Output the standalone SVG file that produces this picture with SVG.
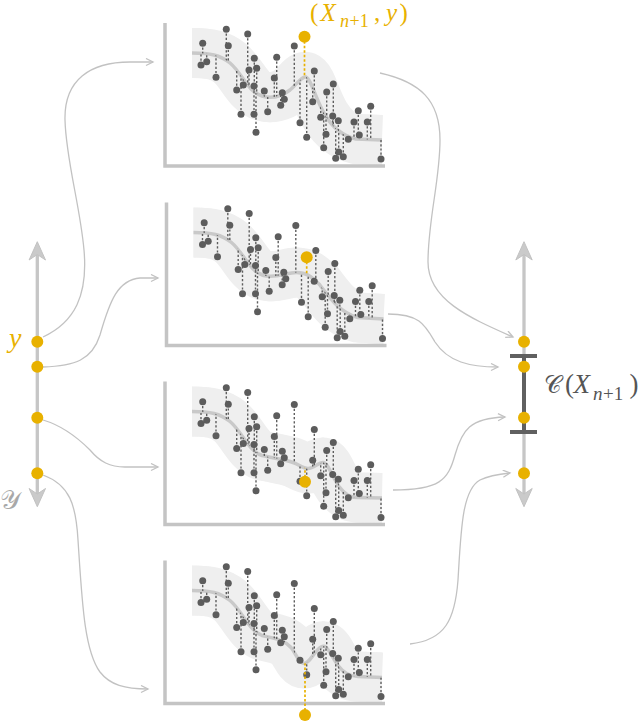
<svg xmlns="http://www.w3.org/2000/svg" xmlns:xlink="http://www.w3.org/1999/xlink" width="640" height="722" viewBox="0 0 640 722">
<style>
.band{fill:#efefef}
.bands{fill:none;stroke:#efefef;stroke-width:50}
.crv{fill:none;stroke:#c9c9c9;stroke-width:3.5}
.ax{fill:none;stroke:#c4c4c4;stroke-width:3.5}
.res{fill:none;stroke:#5e5e5e;stroke-width:1.4;stroke-dasharray:2.2 2}
.yres{fill:none;stroke:#e8b100;stroke-width:1.7;stroke-dasharray:2.5 2}
.pt{fill:#5c5c5c}
.yp{fill:#e8b100}
.conn{fill:none;stroke:#c2c2c2;stroke-width:1.3;marker-end:url(#arr)}
.yax{fill:none;stroke:#c6c6c6;stroke-width:3.3}
.ahead{fill:#cacaca;stroke:#c2c2c2;stroke-width:1;stroke-linejoin:round}
.ci{fill:none;stroke:#606060;stroke-width:4}
</style>
<defs>
<marker id="arr" markerUnits="userSpaceOnUse" markerWidth="10" markerHeight="10" refX="8" refY="4" orient="auto"><path d="M1,0.5 L8,4 L1,7.5" fill="none" stroke="#c2c2c2" stroke-width="1.3"/></marker>
<path id="dn" d="M202.7,43.3v250M201,65v250M206.7,61.7v250M216,77.3v250M226.3,29.3v250M228.3,45.7v250M236.7,90v250M241,114.3v250M243.3,85v250M247.7,34v250M249,70v250M254.3,58.3v250M256.7,68.3v250M254,86v250M254,114.3v250M256,132.3v250M264.3,91v250M267.7,111.7v250M274.3,78v250M276.7,57.3v250M282.3,92.7v250M284.3,99.3v250M280.7,105.3v250M294.3,46v250M300,122.7v250M306.7,137.3v250M314.3,71v250M312.7,101.7v250M320.7,117.3v250M326.7,92v250M326,134.3v250M323.7,147.7v250M333.3,84v250M332.7,116v250M338.3,120.7v250M335.7,158.3v250M338.7,152v250M343.3,156.7v250M348.3,139.3v250M354,122v250M358.3,110.7v250M359.3,135v250M367.3,122v250M370.7,106.3v250M381,159v250"/>
<path id="up" d="M202.7,43.3v-250M201,65v-250M206.7,61.7v-250M216,77.3v-250M226.3,29.3v-250M228.3,45.7v-250M236.7,90v-250M241,114.3v-250M243.3,85v-250M247.7,34v-250M249,70v-250M254.3,58.3v-250M256.7,68.3v-250M254,86v-250M254,114.3v-250M256,132.3v-250M264.3,91v-250M267.7,111.7v-250M274.3,78v-250M276.7,57.3v-250M282.3,92.7v-250M284.3,99.3v-250M280.7,105.3v-250M294.3,46v-250M300,122.7v-250M306.7,137.3v-250M314.3,71v-250M312.7,101.7v-250M320.7,117.3v-250M326.7,92v-250M326,134.3v-250M323.7,147.7v-250M333.3,84v-250M332.7,116v-250M338.3,120.7v-250M335.7,158.3v-250M338.7,152v-250M343.3,156.7v-250M348.3,139.3v-250M354,122v-250M358.3,110.7v-250M359.3,135v-250M367.3,122v-250M370.7,106.3v-250M381,159v-250"/>
<g id="pts" class="pt">
<circle cx="202.7" cy="43.3" r="3.5"/><circle cx="201" cy="65" r="3.5"/><circle cx="206.7" cy="61.7" r="3.5"/><circle cx="216" cy="77.3" r="3.5"/><circle cx="226.3" cy="29.3" r="3.5"/><circle cx="228.3" cy="45.7" r="3.5"/><circle cx="236.7" cy="90" r="3.5"/><circle cx="241" cy="114.3" r="3.5"/><circle cx="243.3" cy="85" r="3.5"/><circle cx="247.7" cy="34" r="3.5"/><circle cx="249" cy="70" r="3.5"/><circle cx="254.3" cy="58.3" r="3.5"/><circle cx="256.7" cy="68.3" r="3.5"/><circle cx="254" cy="86" r="3.5"/><circle cx="254" cy="114.3" r="3.5"/><circle cx="256" cy="132.3" r="3.5"/><circle cx="264.3" cy="91" r="3.5"/><circle cx="267.7" cy="111.7" r="3.5"/><circle cx="274.3" cy="78" r="3.5"/><circle cx="276.7" cy="57.3" r="3.5"/><circle cx="282.3" cy="92.7" r="3.5"/><circle cx="284.3" cy="99.3" r="3.5"/><circle cx="280.7" cy="105.3" r="3.5"/><circle cx="294.3" cy="46" r="3.5"/><circle cx="300" cy="122.7" r="3.5"/><circle cx="306.7" cy="137.3" r="3.5"/><circle cx="314.3" cy="71" r="3.5"/><circle cx="312.7" cy="101.7" r="3.5"/><circle cx="320.7" cy="117.3" r="3.5"/><circle cx="326.7" cy="92" r="3.5"/><circle cx="326" cy="134.3" r="3.5"/><circle cx="323.7" cy="147.7" r="3.5"/><circle cx="333.3" cy="84" r="3.5"/><circle cx="332.7" cy="116" r="3.5"/><circle cx="338.3" cy="120.7" r="3.5"/><circle cx="335.7" cy="158.3" r="3.5"/><circle cx="338.7" cy="152" r="3.5"/><circle cx="343.3" cy="156.7" r="3.5"/><circle cx="348.3" cy="139.3" r="3.5"/><circle cx="354" cy="122" r="3.5"/><circle cx="358.3" cy="110.7" r="3.5"/><circle cx="359.3" cy="135" r="3.5"/><circle cx="367.3" cy="122" r="3.5"/><circle cx="370.7" cy="106.3" r="3.5"/><circle cx="381" cy="159" r="3.5"/>
</g>
<path id="cv1" d="M192,53 C210,53 220,55 230,63 C242,73 248,92 262,96 C272,99 282,96 290,90 C297,84 302,76 306,77 C311,79 316,100 325,115 C333,128 342,136 356,139 L382,140"/>
<path id="ab1" d="M185,-80 L185,53 L192,53 C210,53 220,55 230,63 C242,73 248,92 262,96 C272,99 282,96 290,90 C297,84 302,76 306,77 C311,79 316,100 325,115 C333,128 342,136 356,139 L382,140 L395,140 L395,-80 Z"/>
<path id="be1" d="M185,330 L185,53 L192,53 C210,53 220,55 230,63 C242,73 248,92 262,96 C272,99 282,96 290,90 C297,84 302,76 306,77 C311,79 316,100 325,115 C333,128 342,136 356,139 L382,140 L395,140 L395,330 Z"/>
<path id="cv2" d="M192,53 C210,53 220,55 230,63 C242,73 248,92 262,96 C275,99 285,93 295,93 C305,93 310,97 318,105 C328,118 338,133 356,138 L382,139.5"/>
<path id="ab2" d="M185,-80 L185,53 L192,53 C210,53 220,55 230,63 C242,73 248,92 262,96 C275,99 285,93 295,93 C305,93 310,97 318,105 C328,118 338,133 356,138 L382,139.5 L395,139.5 L395,-80 Z"/>
<path id="be2" d="M185,330 L185,53 L192,53 C210,53 220,55 230,63 C242,73 248,92 262,96 C275,99 285,93 295,93 C305,93 310,97 318,105 C328,118 338,133 356,138 L382,139.5 L395,139.5 L395,330 Z"/>
<path id="cv3" d="M192,53 C210,53 220,55 230,63 C242,73 248,92 262,97 C275,100 285,101 293,104 C299,106 303,110 308,110 C314,110 318,104 323,104 C328,104 332,118 339,128 C345,136 350,139 358,139 L382,139.5"/>
<path id="ab3" d="M185,-80 L185,53 L192,53 C210,53 220,55 230,63 C242,73 248,92 262,97 C275,100 285,101 293,104 C299,106 303,110 308,110 C314,110 318,104 323,104 C328,104 332,118 339,128 C345,136 350,139 358,139 L382,139.5 L395,139.5 L395,-80 Z"/>
<path id="be3" d="M185,330 L185,53 L192,53 C210,53 220,55 230,63 C242,73 248,92 262,97 C275,100 285,101 293,104 C299,106 303,110 308,110 C314,110 318,104 323,104 C328,104 332,118 339,128 C345,136 350,139 358,139 L382,139.5 L395,139.5 L395,330 Z"/>
<path id="cv4" d="M192,53 C210,53 220,55 230,63 C242,73 248,92 262,98 C275,101 284,102 291,110 C296,116 299,126 304,126 C309,126 312,118 317,113 C320,110 322,108 325,109 C329,111 332,120 338,128 C344,136 350,139 358,139 L382,140"/>
<path id="ab4" d="M185,-80 L185,53 L192,53 C210,53 220,55 230,63 C242,73 248,92 262,98 C275,101 284,102 291,110 C296,116 299,126 304,126 C309,126 312,118 317,113 C320,110 322,108 325,109 C329,111 332,120 338,128 C344,136 350,139 358,139 L382,140 L395,140 L395,-80 Z"/>
<path id="be4" d="M185,330 L185,53 L192,53 C210,53 220,55 230,63 C242,73 248,92 262,98 C275,101 284,102 291,110 C296,116 299,126 304,126 C309,126 312,118 317,113 C320,110 322,108 325,109 C329,111 332,120 338,128 C344,136 350,139 358,139 L382,140 L395,140 L395,330 Z"/>
<clipPath id="a1"><use href="#ab1"/></clipPath>
<clipPath id="b1"><use href="#be1"/></clipPath>
<clipPath id="t1"><use href="#be1" transform="translate(0,-25)"/></clipPath>
<clipPath id="u1"><use href="#ab1" transform="translate(0,25)"/></clipPath>
<clipPath id="a2"><use href="#ab2"/></clipPath>
<clipPath id="b2"><use href="#be2"/></clipPath>
<clipPath id="t2"><use href="#be2" transform="translate(0,-25)"/></clipPath>
<clipPath id="u2"><use href="#ab2" transform="translate(0,25)"/></clipPath>
<clipPath id="a3"><use href="#ab3"/></clipPath>
<clipPath id="b3"><use href="#be3"/></clipPath>
<clipPath id="t3"><use href="#be3" transform="translate(0,-25)"/></clipPath>
<clipPath id="u3"><use href="#ab3" transform="translate(0,25)"/></clipPath>
<clipPath id="a4"><use href="#ab4"/></clipPath>
<clipPath id="b4"><use href="#be4"/></clipPath>
<clipPath id="t4"><use href="#be4" transform="translate(0,-25)"/></clipPath>
<clipPath id="u4"><use href="#ab4" transform="translate(0,25)"/></clipPath>
</defs>
<rect width="640" height="722" fill="#ffffff"/>

<g id="connectors">
<path class="conn" d="M43,337 C75,322 88,295 84,250 C80,205 66,160 65,120 C64,80 90,62 130,62 L153,62"/>
<path class="conn" d="M43,367 C75,366 92,360 100,335 C110,300 118,280 140,278 L158,278"/>
<path class="conn" d="M43,420 C60,425 75,435 90,450 C100,462 110,467 125,467 L158,467"/>
<path class="conn" d="M43,475 C70,485 76,505 78,540 C82,600 84,650 100,672 C110,685 125,689 148,689"/>
<path class="conn" d="M380,73 C420,82 440,100 440,140 C440,180 428,220 428,262 C428,300 470,318 513,337"/>
<path class="conn" d="M388,314 C420,314 425,325 435,342 C448,362 470,367 498,367"/>
<path class="conn" d="M393,490 C440,490 448,480 455,455 C462,430 470,418 505,417"/>
<path class="conn" d="M410,644 C445,640 455,620 458,580 C461,530 462,490 480,480 C490,475 500,474 510,473"/>
</g>

<g id="panel1">
<g clip-path="url(#t1)"><rect class="band" x="192" y="-80" width="190" height="400" clip-path="url(#u1)"/></g>
<use href="#cv1" class="bands"/>
<use href="#cv1" class="crv"/>
<use href="#dn" class="res" clip-path="url(#a1)"/>
<use href="#up" class="res" clip-path="url(#b1)"/>
<path class="ax" d="M165,23 V166 H385"/>
<use href="#pts"/>
<path class="yres" d="M304.5,36.7 v250" clip-path="url(#a1)"/>
<circle class="yp" cx="304.5" cy="36.7" r="6"/>
</g>

<g id="panel2" transform="translate(1.5,179.5)">
<g clip-path="url(#t2)"><rect class="band" x="192" y="-80" width="190" height="400" clip-path="url(#u2)"/></g>
<use href="#cv2" class="bands"/>
<use href="#cv2" class="crv"/>
<use href="#dn" class="res" clip-path="url(#a2)"/>
<use href="#up" class="res" clip-path="url(#b2)"/>
<path class="ax" d="M165,23 V166 H385"/>
<use href="#pts"/>
<path class="yres" d="M305.2,77.8 v250" clip-path="url(#a2)"/>
<circle class="yp" cx="305.2" cy="77.8" r="6"/>
</g>

<g id="panel3" transform="translate(0,358.5)">
<g clip-path="url(#t3)"><rect class="band" x="192" y="-80" width="190" height="400" clip-path="url(#u3)"/></g>
<use href="#cv3" class="bands"/>
<use href="#cv3" class="crv"/>
<use href="#dn" class="res" clip-path="url(#a3)"/>
<use href="#up" class="res" clip-path="url(#b3)"/>
<path class="ax" d="M165,23 V166 H385"/>
<use href="#pts"/>
<path class="yres" d="M305,123.2 v-250" clip-path="url(#b3)"/>
<circle class="yp" cx="305" cy="123.2" r="6"/>
</g>

<g id="panel4" transform="translate(0,537.5)">
<g clip-path="url(#t4)"><rect class="band" x="192" y="-80" width="190" height="400" clip-path="url(#u4)"/></g>
<use href="#cv4" class="bands"/>
<use href="#cv4" class="crv"/>
<use href="#dn" class="res" clip-path="url(#a4)"/>
<use href="#up" class="res" clip-path="url(#b4)"/>
<path class="ax" d="M165,23 V166 H385"/>
<use href="#pts"/>
<path class="yres" d="M305,177.5 v-250" clip-path="url(#b4)"/>
<circle class="yp" cx="305" cy="177.5" r="6"/>
</g>

<g id="new-point-label">
<text font-family="Liberation Serif, DejaVu Serif, serif" y="21" font-size="25" fill="#e8b100"><tspan x="310">(</tspan><tspan x="320.5" font-style="italic">X</tspan><tspan x="340" y="26.5" font-size="18" font-style="italic">n</tspan><tspan x="349.5" y="26.5" font-size="18">+1</tspan><tspan x="374" y="21">,</tspan><tspan x="386" font-style="italic">y</tspan><tspan x="399.5">)</tspan></text>
</g>

<g id="y-axis-left">
<path class="yax" d="M37.3,254 V495"/>
<path class="ahead" d="M37.3,241.7 L45.5,260 L37.3,254.5 L29.1,260 Z"/>
<path class="ahead" d="M37.3,506.7 L45.5,488.5 L37.3,494 L29.1,488.5 Z"/>
<circle class="yp" cx="37.3" cy="341.7" r="6"/>
<circle class="yp" cx="37.3" cy="366.7" r="6"/>
<circle class="yp" cx="37.3" cy="417.7" r="6"/>
<circle class="yp" cx="37.3" cy="473.3" r="6"/>
<text font-family="Liberation Serif, DejaVu Serif, serif" x="9" y="347" font-size="28" font-style="italic" fill="#e8b100">y</text>
<text font-family="Liberation Serif, DejaVu Serif, serif" x="0" y="509" font-size="26" fill="#a8a8a8">𝒴</text>
</g>

<g id="y-axis-right">
<path class="yax" d="M524,254 V495"/>
<path class="ahead" d="M524,241.7 L532.2,260 L524,254.5 L515.8,260 Z"/>
<path class="ahead" d="M524,506.7 L532.2,488.5 L524,494 L515.8,488.5 Z"/>
<path class="ci" d="M524,356 V432 M510,356 H537 M510,432 H537"/>
<circle class="yp" cx="524" cy="341.7" r="6"/>
<circle class="yp" cx="524" cy="366.7" r="6"/>
<circle class="yp" cx="524" cy="417.7" r="6"/>
<circle class="yp" cx="524" cy="473.3" r="6"/>
<text font-family="Liberation Serif, DejaVu Serif, serif" y="393" font-size="27" fill="#555555"><tspan x="544" font-size="24">𝒞</tspan><tspan x="565">(</tspan><tspan x="573.5" font-style="italic">X</tspan><tspan x="593" y="399.5" font-size="19" font-style="italic">n</tspan><tspan x="603" y="399.5" font-size="19">+1</tspan><tspan x="629.5" y="393">)</tspan></text>
</g>
</svg>
